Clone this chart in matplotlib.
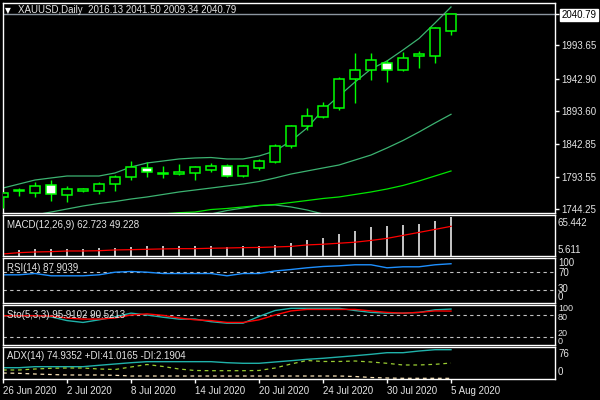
import matplotlib
matplotlib.use('Agg')
import matplotlib.pyplot as plt
import numpy as np

plt.rcParams['font.family'] = ['Liberation Sans', 'DejaVu Sans']

# ---------------- data ----------------
date_labels = ['26 Jun 2020', '2 Jul 2020', '8 Jul 2020', '14 Jul 2020',
               '20 Jul 2020', '24 Jul 2020', '30 Jul 2020', '5 Aug 2020']
date_pos = [0, 4, 8, 12, 16, 20, 24, 28]

opens = [1762.5, 1771.5, 1769.5, 1780.8, 1766.5, 1772.5, 1772.5, 1783.2, 1792.9, 1807.1,
         1797.5, 1797.5, 1799.9, 1804.5, 1810.1, 1794.4, 1806.6, 1816.6, 1839.8, 1870.5,
         1884.2, 1897.9, 1942.0, 1955.6, 1966.7, 1955.6, 1977.0, 1976.9, 2016.13]
highs = [1770.0, 1776.6, 1785.3, 1788.8, 1779.2, 1776.6, 1786.2, 1796.4, 1817.7, 1816.2,
         1810.1, 1813.1, 1809.5, 1814.6, 1813.1, 1811.6, 1820.7, 1843.5, 1872.4, 1898.3,
         1907.4, 1945.0, 1981.5, 1982.4, 1971.3, 1983.5, 1985.0, 2021.0, 2041.50]
lows = [1746.2, 1764.5, 1763.0, 1757.3, 1755.8, 1770.6, 1767.5, 1772.5, 1788.8, 1793.8,
        1792.3, 1796.5, 1788.8, 1801.4, 1794.0, 1794.0, 1804.5, 1815.1, 1838.0, 1864.8,
        1883.0, 1896.0, 1906.4, 1940.9, 1938.3, 1954.1, 1959.6, 1966.3, 2009.34]
closes = [1768.6, 1773.5, 1779.2, 1768.0, 1775.1, 1775.6, 1782.7, 1792.9, 1808.1, 1801.4,
          1799.5, 1800.9, 1808.6, 1810.1, 1794.4, 1810.1, 1817.7, 1840.0, 1870.9, 1885.7,
          1900.9, 1941.9, 1955.6, 1970.8, 1955.6, 1974.3, 1980.4, 2019.9, 2040.79]

bb_upper = [1776.6, 1782.7, 1788.8, 1791.9, 1794.9, 1794.9, 1794.9, 1799.5, 1808.6, 1814.7,
            1817.7, 1820.8, 1822.3, 1823.0, 1820.8, 1820.8, 1825.3, 1832.9, 1848.1, 1867.9,
            1895.2, 1916.6, 1937.8, 1957.6, 1969.8, 1986.5, 2004.0, 2027.6, 2051.9]
bb_middle = [1728.0, 1731.0, 1735.6, 1740.1, 1744.7, 1749.3, 1753.1, 1756.1, 1759.9, 1763.0,
             1766.8, 1770.6, 1773.6, 1776.6, 1779.7, 1782.7, 1786.5, 1791.9, 1797.9, 1802.5,
             1807.1, 1811.6, 1819.2, 1826.8, 1837.5, 1848.9, 1861.8, 1875.5, 1888.7]
nan = float('nan')
bb_lower = [nan] * 13 + [1737.1, 1742.4, 1746.2, 1750.0, 1750.8, 1747.8, 1743.2, 1737.1] + [nan] * 8
ma_slow = [nan] * 10 + [1737.1, 1739.1, 1740.1, 1743.9, 1745.5, 1747.8, 1750.0, 1751.6, 1754.6,
                        1757.6, 1760.7, 1763.0, 1766.8, 1770.6, 1775.1, 1780.5, 1787.3, 1794.9, 1802.5]

macd_hist = [14.5, 14.5, 16.0, 16.4, 16.0, 16.4, 17.9, 17.9, 18.9, 20.4,
             20.4, 20.4, 20.4, 20.4, 18.5, 20.4, 20.4, 22.3, 24.8, 29.3,
             32.2, 38.1, 42.5, 48.5, 49.9, 51.4, 52.9, 57.3, 62.723]
macd_signal = [8.6, 10.5, 11.5, 12.0, 13.0, 13.0, 13.4, 14.5, 14.9, 15.5,
               16.0, 16.4, 16.4, 17.0, 17.4, 17.9, 18.2, 18.9, 19.7, 21.9,
               22.9, 24.4, 25.9, 28.5, 31.5, 35.9, 40.3, 44.7, 49.228]

rsi = [63.3, 63.3, 66.2, 61.1, 61.1, 61.1, 63.3, 69.1, 70.7, 69.1,
       66.2, 66.2, 66.2, 66.2, 61.1, 66.2, 66.2, 71.8, 75.1, 78.9,
       81.8, 83.3, 85.6, 85.6, 78.9, 81.1, 81.1, 85.6, 87.9039]

sto_main = [78, 78, 78, 75, 65, 60, 67, 75, 85, 80,
            74, 69, 69, 62, 58, 58, 76, 92, 98, 98,
            98, 98, 92, 87, 85, 85, 87, 94, 95.9102]
sto_signal = [78, 78, 78, 77, 72, 69, 69, 72, 80, 83,
              79, 72, 67, 65, 60, 60, 67, 80, 91, 95,
              95, 95, 95, 91, 87, 85, 87, 91, 90.5213]

adx = [29.2, 29.2, 31.8, 31.8, 31.8, 31.8, 35.3, 38.6, 41.9, 44.5,
       44.5, 44.5, 44.5, 44.5, 41.9, 40.4, 40.4, 43.7, 47.0, 50.5,
       53.1, 56.4, 59.7, 63.2, 67.3, 67.3, 71.6, 74.9, 74.9352]
plus_di = [23.4, 23.4, 25.9, 27.7, 28.4, 28.4, 25.9, 24.6, 31.0, 37.3,
           32.3, 25.9, 22.1, 21.6, 21.6, 21.6, 22.1, 28.4, 38.6, 47.5,
           45.0, 45.0, 46.2, 43.7, 40.4, 36.1, 36.1, 37.8, 41.0165]
minus_di = [15.7, 15.0, 13.2, 11.9, 10.7, 10.7, 10.7, 9.9, 8.1, 8.1,
            8.1, 8.1, 8.1, 8.1, 8.1, 8.1, 8.1, 8.1, 8.1, 8.1,
            8.1, 8.1, 6.9, 4.3, 3.0, 2.3, 2.3, 2.3, 2.1904]

price_ticks = [1993.65, 1942.90, 1893.60, 1842.85, 1793.55, 1744.25]
last_price = 2040.79

# ---------------- figure ----------------
W, H = 600, 400
fig = plt.figure(figsize=(6, 4), dpi=100, facecolor='black')
TXT = '#e4e4e4'
FS = 7
L_PX, R_PX = 2.5, 554.5


def add_panel(top, bottom):
    ax = fig.add_axes([L_PX / W, 1 - bottom / H, (R_PX - L_PX) / W, (bottom - top) / H])
    ax.set_facecolor('black')
    for s in ax.spines.values():
        s.set_color('white')
        s.set_linewidth(1.0)
    ax.set_xlim((L_PX - 3) / 16, (R_PX - 3) / 16)
    ax.set_xticks([])
    ax.set_yticks([])
    return ax


def rlabel(y, s, x=558, fs=FS):
    fig.text(x / W, 1 - y / H, s, color=TXT, fontsize=fs, va='center', ha='left')


x = np.arange(len(opens))
o = np.array(opens); c = np.array(closes)
hi = np.array(highs); lo = np.array(lows)

# main panel
ax = add_panel(2.7, 213.3)
ax.set_ylim(1738.17, 2058.43)
ax.plot(x, bb_upper, color='#3cb371', lw=0.9)
ax.plot(x, bb_middle, color='#3cb371', lw=0.9)
ax.plot(x, bb_lower, color='#3cb371', lw=0.9)
ax.plot(x, ma_slow, color='#00e600', lw=0.9)
ax.axhline(last_price, color='#8c96a0', lw=1.0)
ax.vlines(x, lo, hi, color='#00ff00', lw=1.0, zorder=3)
bear = c < o
fills = ['white' if b else 'black' for b in bear]
ax.bar(x, np.abs(c - o), bottom=np.minimum(o, c), width=0.66, color=fills,
       edgecolor='#00ff00', linewidth=1.1, zorder=4)
ax.yaxis.tick_right()
ax.set_yticks([last_price] + price_ticks)
lbls = ax.set_yticklabels(['%.2f' % last_price] + ['%.2f' % v for v in price_ticks])
ax.tick_params(axis='y', colors='white', length=3, width=1, labelsize=FS, pad=2,
               labelcolor=TXT)
lbls[0].set_color('black')
lbls[0].set_bbox(dict(facecolor='white', edgecolor='white', pad=0.8))
fig.text(5 / W, 1 - 10.5 / H, '\u25bc', color='white', fontsize=5.5, va='center',
         family='DejaVu Sans')
fig.text(18 / W, 1 - 10 / H, 'XAUUSD,Daily  2016.13 2041.50 2009.34 2040.79',
         color=TXT, fontsize=FS, va='center')

# MACD
ax = add_panel(215.3, 256.0)
ax.set_ylim(5.611, 65.442)
ax.bar(x, macd_hist, width=0.18, color='#c0c0c0')
ax.plot(x, macd_signal, color='red', lw=0.9)
ax.text(0.008, 0.76, 'MACD(12,26,9) 62.723 49.228', transform=ax.transAxes,
        color=TXT, fontsize=FS, va='center')
rlabel(222.7, '65.442')
rlabel(250.0, '5.611')

# RSI
ax = add_panel(258.3, 303.3)
ax.set_ylim(0, 100)
for lv in (70, 30):
    ax.axhline(lv, color='#c0c0c0', lw=0.8, ls=(0, (3, 3)))
ax.plot(x, rsi, color='#1e90ff', lw=1.0)
ax.text(0.008, 0.78, 'RSI(14) 87.9039', transform=ax.transAxes,
        color=TXT, fontsize=FS, va='center')
rlabel(263.5, '100'); rlabel(272.5, '70'); rlabel(289.0, '30'); rlabel(297.5, '0')

# Stochastic
ax = add_panel(305.0, 345.0)
ax.set_ylim(-0.7, 106.9)
for lv in (80, 20):
    ax.axhline(lv, color='#c0c0c0', lw=0.8, ls=(0, (3, 3)))
ax.plot(x, sto_main, color='#20b2aa', lw=1.0)
ax.plot(x, sto_signal, color='red', lw=1.0)
ax.text(0.008, 0.75, 'Sto(5,3,3) 95.9102 90.5213', transform=ax.transAxes,
        color=TXT, fontsize=FS, va='center')
rlabel(308.5, '100', fs=6.5); rlabel(317.5, '80', fs=6.5)
rlabel(333.0, '20', fs=6.5); rlabel(342.0, '0', fs=6.5)

# ADX
ax = add_panel(347.3, 379.3)
ax.set_ylim(-0.25, 81)
ax.plot(x, adx, color='#20b2aa', lw=1.0)
ax.plot(x, plus_di, color='#9acd32', lw=0.9, ls=(0, (3, 3)))
ax.plot(x, minus_di, color='#f5deb3', lw=0.9, ls=(0, (3, 3)))
ax.text(0.008, 0.72, 'ADX(14) 74.9352 +DI:41.0165 -DI:2.1904', transform=ax.transAxes,
        color=TXT, fontsize=FS, va='center')
rlabel(354.3, '76'); rlabel(372.3, '0')
ax.set_xticks(date_pos)
ax.set_xticklabels(date_labels, ha='left')
ax.tick_params(axis='x', colors='white', length=3, width=1, labelsize=FS, pad=1.5,
               labelcolor=TXT)

fig.savefig('out.png', dpi=100, facecolor='black')
